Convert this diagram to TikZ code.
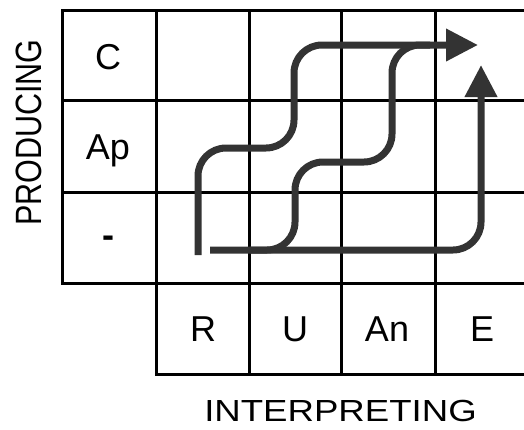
\documentclass[tikz,border=0pt]{standalone}
\usepackage{fontspec}
\setmainfont{Liberation Sans}
\usetikzlibrary{arrows.meta}
\definecolor{flowgray}{HTML}{333333}
\begin{document}
\begin{tikzpicture}[x=1pt,y=-1pt,
  gridline/.style={line width=3pt, draw=black},
  flow/.style={line width=7pt, draw=flowgray, rounded corners=28pt},
  tipped/.style={-{Triangle[length=32pt,width=31pt]}},
  cell/.style={inner sep=0pt, text height=25.8pt, text depth=0pt, font=\fontsize{36}{40}\selectfont},
  axis/.style={inner sep=0pt, text depth=0pt, font=\fontsize{30.5}{34}\selectfont}]
\useasboundingbox (0,0) rectangle (524,429);
% grid
\draw[gridline] (524,10) -- (62,10) -- (62,283) -- (524,283);
\draw[gridline] (62,100) -- (524,100);
\draw[gridline] (62,192) -- (524,192);
\draw[gridline] (156,10) -- (156,374) -- (524,374);
\draw[gridline] (249,10) -- (249,374);
\draw[gridline] (341,10) -- (341,374);
\draw[gridline] (435,10) -- (435,374);
% flow path points
\coordinate (a0) at (198,255);
\coordinate (a1) at (198,148);
\coordinate (a2) at (294,148);
\coordinate (a3) at (294,45);
\coordinate (a4) at (478,45);
\coordinate (b0) at (210,250);
\coordinate (b1) at (481,250);
\coordinate (b2) at (481,65);
\coordinate (c0) at (250,250);
\coordinate (c1) at (295,250);
\coordinate (c2) at (295,162);
\coordinate (c3) at (392,162);
\coordinate (c4) at (392,45);
\coordinate (c5) at (430,45);
% flows
\draw[flow] (c0) -- (c1) -- (c2) -- (c3) -- (c4) -- (c5);
\draw[flow,tipped] (b0) -- (b1) -- (b2);
\draw[flow,tipped] (a0) -- (a1) -- (a2) -- (a3) -- (a4);
% labels
\node[cell] (lc) at (108,57) {C};
\node[cell] (lap) at (108,147) {Ap};
\node[cell] (ldash) at (108,235) {\textbf{-}};
\node[cell] (lr) at (203,329) {R};
\node[cell] (lu) at (295,329) {U};
\node[cell] (lan) at (387,329) {An};
\node[cell] (le) at (482,329) {E};
\node[axis, rotate=90] (prod) at (28.5,132.5) {\scalebox{1}[1.2]{PRODUCING}};
\node[axis] (interp) at (340.5,410.5) {\scalebox{1.2}[1]{INTERPRETING}};
\end{tikzpicture}
\end{document}
